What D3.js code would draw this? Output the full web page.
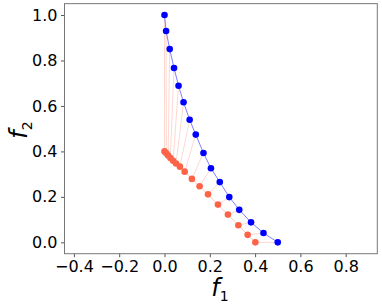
<!DOCTYPE html>
<html><head><meta charset="utf-8">
<script src="https://cdn.jsdelivr.net/npm/d3@7"></script>
<style>body{margin:0;background:#fff}svg{display:block}text{font-family:"DejaVu Sans",sans-serif}</style>
</head><body>
<svg id="c" width="382" height="307"></svg>
<script>
const blueF1 = [0, 0.007, 0.023, 0.042, 0.062, 0.084, 0.111, 0.138, 0.172, 0.205, 0.244, 0.286, 0.330, 0.382, 0.437, 0.5];
const blueF2 = [1.0, 0.93, 0.85, 0.767, 0.689, 0.616, 0.539, 0.474, 0.393, 0.326, 0.265, 0.199, 0.143, 0.088, 0.041, 0.0];
const redF1 = [0, 0.008, 0.016, 0.026, 0.038, 0.051, 0.068, 0.089, 0.121, 0.155, 0.192, 0.236, 0.280, 0.326, 0.367, 0.401];
const redF2 = [0.40, 0.392, 0.382, 0.371, 0.359, 0.347, 0.333, 0.311, 0.279, 0.247, 0.211, 0.166, 0.122, 0.075, 0.033, 0.0];
const xTicks = [-0.4, -0.2, 0.0, 0.2, 0.4, 0.6, 0.8];
const yTicks = [0.0, 0.2, 0.4, 0.6, 0.8, 1.0];

const svg = d3.select("#c");
const L = 64.5, R = 377.3, T = 3.65, B = 253.7;
const x = d3.scaleLinear().domain([-0.4415, 0.9395]).range([L, R]);
const y = d3.scaleLinear().domain([-0.05, 1.05]).range([B, T]);

const blue = blueF1.map((v, i) => [v, blueF2[i]]);
const red = redF1.map((v, i) => [v, redF2[i]]);

// connectors
svg.append("g").selectAll("line").data(blue).join("line")
  .attr("x1", d => x(d[0])).attr("y1", d => y(d[1]))
  .attr("x2", (d, i) => x(red[i][0])).attr("y2", (d, i) => y(red[i][1]))
  .attr("stroke", "tomato").attr("stroke-opacity", 0.25).attr("stroke-width", 1);

const line = d3.line().x(d => x(d[0])).y(d => y(d[1]));
svg.append("path").attr("d", line(red)).attr("fill", "none")
  .attr("stroke", "tomato").attr("stroke-opacity", 0.35).attr("stroke-width", 1);
svg.append("path").attr("d", line(blue)).attr("fill", "none")
  .attr("stroke", "blue").attr("stroke-opacity", 0.5).attr("stroke-width", 1);

svg.append("g").selectAll("circle").data(red).join("circle")
  .attr("cx", d => x(d[0])).attr("cy", d => y(d[1])).attr("r", 3.3).attr("fill", "tomato");
svg.append("g").selectAll("circle").data(blue).join("circle")
  .attr("cx", d => x(d[0])).attr("cy", d => y(d[1])).attr("r", 3.3).attr("fill", "blue");

const fmt = v => d3.format(".1f")(v).replace("-", "\u2212");
const xa = svg.append("g").attr("transform", `translate(0,${B})`)
  .call(d3.axisBottom(x).tickValues(xTicks).tickFormat(fmt).tickSize(3.5).tickPadding(3.5));
const ya = svg.append("g").attr("transform", `translate(${L},0)`)
  .call(d3.axisLeft(y).tickValues(yTicks).tickFormat(fmt).tickSize(3.5).tickPadding(3.5));
[xa, ya].forEach(a => {
  a.select(".domain").remove();
  a.selectAll("line").attr("stroke", "#555");
  a.selectAll("text").attr("font-size", 16).attr("fill", "#000").attr("font-family", "DejaVu Sans");
});
svg.append("rect").attr("x", L).attr("y", T).attr("width", R - L).attr("height", B - T)
  .attr("fill", "none").attr("stroke", "#777").attr("stroke-width", 1);

// axis labels
const xl = svg.append("text").attr("x", 220).attr("y", 296).attr("text-anchor", "middle")
  .attr("font-size", 24);
xl.append("tspan").attr("font-style", "italic").text("f");
xl.append("tspan").attr("font-size", 14).attr("dy", 4.5).text("1");
const yl = svg.append("text").attr("transform", `translate(27,130) rotate(-90)`)
  .attr("text-anchor", "middle").attr("font-size", 24);
yl.append("tspan").attr("font-style", "italic").text("f");
yl.append("tspan").attr("font-size", 14).attr("dy", 4.5).text("2");
</script>
</body></html>
